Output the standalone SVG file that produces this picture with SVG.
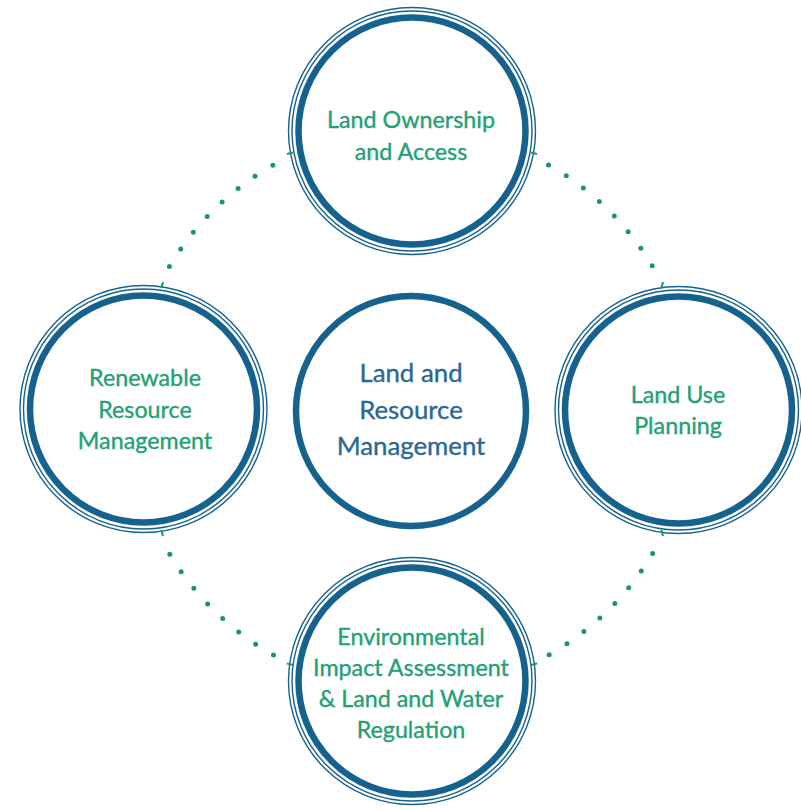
<svg xmlns="http://www.w3.org/2000/svg" width="801" height="809" viewBox="0 0 801 809">
<defs>
<style>
.thick{fill:#fff;stroke:#15628e;stroke-width:6.5}
.thin{fill:none;stroke:#15628e;stroke-width:1.4}
.lbl{font-family:Lato,"Open Sans","Liberation Sans",sans-serif;font-size:23.3px;fill:#23a074;stroke:#23a074;stroke-width:0.35;text-anchor:middle}
.core{font-family:Lato,"Open Sans","Liberation Sans",sans-serif;font-size:25.8px;fill:#2a6794;stroke:#2a6794;stroke-width:0.35;text-anchor:middle}
.dots{fill:none;stroke:#1d9468;stroke-width:5;stroke-linecap:round;stroke-dasharray:0 20.9}
.tick{fill:none;stroke:#1d9468;stroke-width:2}
</style>
</defs>
<rect width="801" height="809" fill="#fff"/>
<g id="connectors">
<path class="dots" d="M169.4,266.5 A281,281 0 0 1 273.5,164.9"/>
<path class="dots" d="M548.5,164.9 A281,281 0 0 1 652.6,266.5"/>
<path class="dots" d="M652.6,553.5 A281,281 0 0 1 548.5,655.1"/>
<path class="dots" d="M273.5,655.1 A281,281 0 0 1 169.4,553.5"/>
</g>
<g id="node-top">
<circle class="thin" cx="412" cy="131" r="123.5"/>
<circle class="thin" cx="412" cy="131" r="120"/>
<circle class="thick" cx="412" cy="131" r="113.5"/>
<path class="tick" d="M287,154 L293,152.5"/>
<path class="tick" d="M531,152.5 L537,154"/>
<text class="lbl" x="411" y="128">Land Ownership</text>
<text class="lbl" x="411" y="160">and Access</text>
</g>
<g id="node-left">
<circle class="thin" cx="143.5" cy="409" r="123.5"/>
<circle class="thin" cx="143.5" cy="409" r="120"/>
<circle class="thick" cx="143.5" cy="409" r="113.5"/>
<path class="tick" d="M161.5,288 L163,282"/>
<path class="tick" d="M161.5,530 L163,536"/>
<text class="lbl" x="145" y="386">Renewable</text>
<text class="lbl" x="145" y="418">Resource</text>
<text class="lbl" x="145" y="449">Management</text>
</g>
<g id="node-center">
<circle class="thick" cx="411" cy="411" r="115"/>
<text class="core" x="411" y="382">Land and</text>
<text class="core" x="411" y="419">Resource</text>
<text class="core" x="411" y="455">Management</text>
</g>
<g id="node-right">
<circle class="thin" cx="678.5" cy="410" r="123.5"/>
<circle class="thin" cx="678.5" cy="410" r="120"/>
<circle class="thick" cx="678.5" cy="410" r="113.5"/>
<path class="tick" d="M663,282 L661.5,288"/>
<path class="tick" d="M663,536 L661.5,530"/>
<text class="lbl" x="678" y="403">Land Use</text>
<text class="lbl" x="678" y="434">Planning</text>
</g>
<g id="node-bottom">
<circle class="thin" cx="412" cy="681" r="123.5"/>
<circle class="thin" cx="412" cy="681" r="120"/>
<circle class="thick" cx="412" cy="681" r="113.5"/>
<path class="tick" d="M287,663.5 L293,665"/>
<path class="tick" d="M531,665 L537,663.5"/>
<text class="lbl" x="411" y="645">Environmental</text>
<text class="lbl" x="411" y="676">Impact Assessment</text>
<text class="lbl" x="411" y="707">&amp; Land and Water</text>
<text class="lbl" x="411" y="738">Regulation</text>
</g>
</svg>
